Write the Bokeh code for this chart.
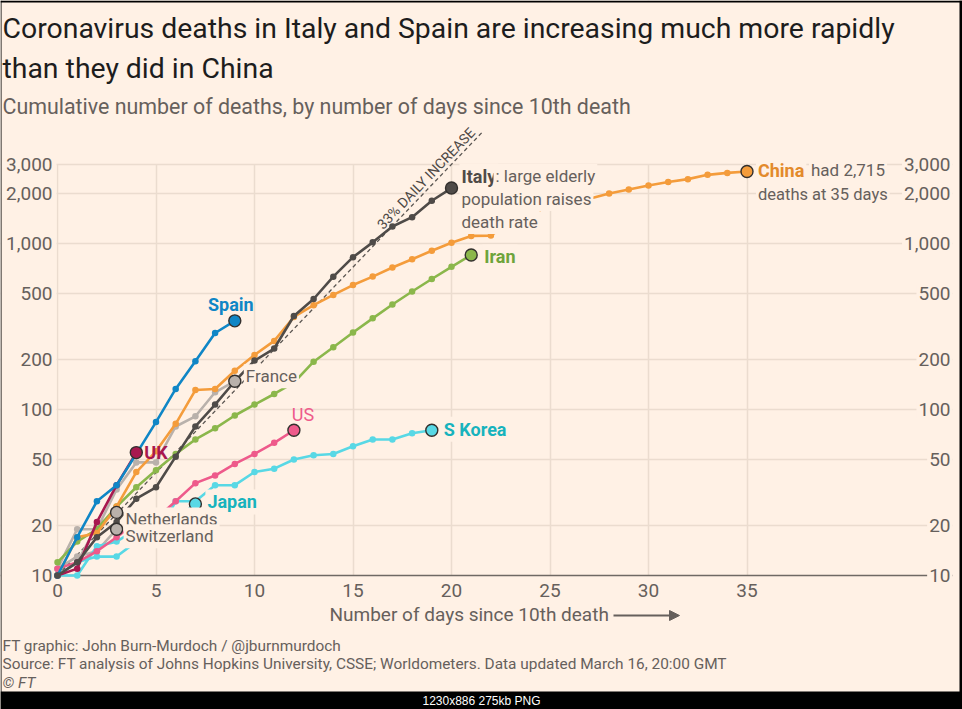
from bokeh.plotting import figure
from bokeh.models import (Range1d, FixedTicker, Grid, BoxAnnotation, Label,
                          Arrow, NormalHead, ColumnDataSource)
from bokeh.embed import file_html
from bokeh.resources import INLINE

# ------------------------------------------------------------------ data
# cumulative deaths by day since 10th death (day 0 = first value)
ITALY = [10, 12, 17, 21, 29, 34, 52, 79, 107, 148, 197, 233, 366, 463, 631,
         827, 1016, 1266, 1441, 1809, 2158]
CHINA = [10, 17, 18, 26, 42, 56, 82, 131, 133, 171, 213, 259, 361, 425, 490,
         562, 632, 717, 804, 904, 1011, 1111, 1116, 1368, 1520, 1662, 1765,
         1863, 2002, 2114, 2236, 2345, 2442, 2592, 2663, 2715]
SPAIN = [10, 17, 28, 35, 54, 84, 133, 195, 289, 342]
IRAN = [12, 16, 19, 26, 34, 43, 54, 66, 77, 92, 107, 124, 145, 194, 237, 291,
        354, 429, 514, 611, 724, 853]
S_KOREA = [10, 12, 13, 13, 16, 17, 28, 28, 35, 35, 42, 44, 50, 53, 54, 60,
           66, 66, 72, 75]
JAPAN = [10, 10, 15, 16, 19, 22, 22, 27]
US = [11, 12, 14, 17, 21, 22, 28, 36, 40, 47, 54, 63, 75]
UK = [10, 11, 21, 35, 55]
FRANCE = [11, 19, 19, 33, 48, 48, 79, 91, 127, 148]
NETHERLANDS = [10, 12, 20, 24]
SWITZERLAND = [11, 13, 14, 19]

REF_GROWTH = 0.33          # 33% daily increase guide
REF_DAYS = [0, 21.6]
REF_START = 10

X_TICKS = [0, 5, 10, 15, 20, 25, 30, 35]
Y_TICKS = [10, 20, 50, 100, 200, 500, 1000, 2000, 3000]

# ------------------------------------------------------------------ style
BG = "#fff1e5"
GRID = "#ebdccf"
AXIS = "#6f6964"
TXT = "#66605c"
TITLE = "#1d1d1d"
DARK = "#33302e"
FONT = "Roboto"

C_ITALY = "#4f4b48"
C_CHINA = "#f49c3b"
C_SPAIN = "#0f86c6"
C_IRAN = "#8bb74b"
C_CYAN = "#58d8e5"
C_US = "#ee5a8b"
C_UK = "#a8184f"
C_GREY = "#b9b1ab"

W, H = 962, 709
X0_PX, PX_DAY = 57, 19.7      # page x of day 0, pixels per day
Y10_PX, PX_DEC = 575, 166     # page y of 10 deaths, pixels per decade
PLOT_L, PLOT_R = 56, 952      # horizontal extent of the plotting area
LEFT_LAB_PX = 52              # right edge of the left tick labels
XLAB_PY = 590                 # centre of the x tick labels


def day_at(px):
    return (px - X0_PX) / PX_DAY


def val_at(py):
    return 10 ** (1 + (Y10_PX - py) / PX_DEC)


p = figure(width=W, height=H, output_backend="svg", toolbar_location=None,
           x_range=Range1d(day_at(0), day_at(W)), y_range=Range1d(val_at(H), val_at(0)),
           y_axis_type="log", x_axis_location=None, y_axis_location=None,
           min_border=0, background_fill_color=BG, border_fill_color=BG,
           outline_line_color=None)


def mask(**kw):
    return BoxAnnotation(fill_color=BG, fill_alpha=1, line_color=None,
                         level="underlay", **kw)


xg = Grid(dimension=0, ticker=FixedTicker(ticks=X_TICKS),
          grid_line_color=GRID, grid_line_width=1.5)
yg = Grid(dimension=1, ticker=FixedTicker(ticks=Y_TICKS[1:]),
          grid_line_color=GRID, grid_line_width=1.5)
base = Grid(dimension=1, ticker=FixedTicker(ticks=Y_TICKS[:1]),
            grid_line_color=AXIS, grid_line_width=1.5)
p.center = [xg, mask(bottom=Y_TICKS[-1]), mask(top=Y_TICKS[0]),
            yg, base, mask(right=day_at(PLOT_L)), mask(left=day_at(PLOT_R))]

# 33% daily increase guide
ref_vals = [REF_START * (1 + REF_GROWTH) ** d for d in REF_DAYS]
p.line(REF_DAYS, ref_vals, line_color="#5a5551", line_width=1.3, line_dash="4 3")

# series
SERIES = [
    (FRANCE, C_GREY), (NETHERLANDS, C_GREY), (SWITZERLAND, C_GREY),
    (JAPAN, C_CYAN), (S_KOREA, C_CYAN), (US, C_US), (IRAN, C_IRAN),
    (CHINA, C_CHINA), (UK, C_UK), (SPAIN, C_SPAIN), (ITALY, C_ITALY),
]
for vals, col in SERIES:
    src = ColumnDataSource(dict(x=list(range(len(vals))), y=vals))
    p.line("x", "y", source=src, line_color=col, line_width=2.6, line_join="round")
    p.scatter("x", "y", source=src, size=6.5, fill_color=col, line_color=None)
for vals, col in SERIES:
    p.scatter([len(vals) - 1], [vals[-1]], size=12, fill_color=col,
              line_color=DARK, line_width=1.4)


def lab(x, y, text, size, color, bold=False, italic=False, align="left",
        baseline="middle", xo=0, yo=0, bg=None, xu="data", yu="data",
        angle=0, font=FONT):
    style = "bold" if bold else ("italic" if italic else "normal")
    kw = dict(x=x, y=y, text=text, text_font=font, text_font_size=f"{size}px",
              text_color=color, text_font_style=style, text_align=align,
              text_baseline=baseline, x_offset=xo, y_offset=yo,
              x_units=xu, y_units=yu, angle=angle, angle_units="deg")
    if bg:
        kw.update(background_fill_color=bg, background_fill_alpha=1.0, padding=2)
    p.add_layout(Label(**kw))


def slab(px, py, text, size, color, **kw):
    """label centred vertically on page pixel row py (top-left origin)"""
    lab(px, H - py, text, size, color, xu="screen", yu="screen", **kw)


def end(vals):
    return len(vals) - 1, vals[-1]


# tick labels (left, right, bottom)
for t in Y_TICKS:
    lab(day_at(LEFT_LAB_PX), t, f"{t:,}", 19, TXT, align="right")
    lab(day_at(PLOT_R), t, f"{t:,}", 19, TXT, align="right", bg=BG)
for t in X_TICKS:
    lab(t, H - XLAB_PY, f"{t}", 19, TXT, align="center", yu="screen")

# series labels
lab(*end(SPAIN), "Spain", 18, C_SPAIN, bold=True, align="center", xo=-4, yo=16)
lab(*end(UK), "UK", 18, C_UK, bold=True, xo=8, yo=0)
lab(*end(FRANCE), "France", 17, TXT, xo=9, yo=5, bg=BG)
lab(*end(US), "US", 18, C_US, align="center", xo=9, yo=16)
lab(*end(NETHERLANDS), "Netherlands", 17, TXT, xo=7, yo=-7, bg=BG)
lab(*end(SWITZERLAND), "Switzerland", 17, TXT, xo=7, yo=-7, bg=BG)
lab(*end(JAPAN), "Japan", 18, "#17b3bd", bold=True, xo=10, yo=2, bg=BG)
lab(*end(S_KOREA), "S Korea", 18, "#17b3bd", bold=True, xo=10, yo=1, bg=BG)
lab(*end(IRAN), "Iran", 18, "#6ea43b", bold=True, xo=11, yo=-2, bg=BG)
lab(*end(ITALY), "Italy", 18, C_ITALY, bold=True, xo=8, yo=12, bg=BG)
lab(*end(ITALY), ": large elderly", 17, TXT, xo=42, yo=12, bg=BG)
lab(*end(ITALY), "population raises", 17, TXT, xo=8, yo=-11, bg=BG)
lab(*end(ITALY), "death rate", 17, TXT, xo=8, yo=-34, bg=BG)
lab(*end(CHINA), "China", 18, "#e38a2b", bold=True, xo=9, yo=1, bg=BG)
lab(*end(CHINA), "had 2,715", 17, TXT, xo=62, yo=1, bg=BG)
lab(*end(CHINA), "deaths at 35 days", 16.5, TXT, xo=9, yo=-23, bg=BG)

ref_lab_day = 19
lab(ref_lab_day, REF_START * (1 + REF_GROWTH) ** ref_lab_day, "33% DAILY INCREASE",
    14, "#4d4845", align="center", baseline="bottom", angle=46.2, yo=1)

# titles, axis title, footer
slab(2, 28, "Coronavirus deaths in Italy and Spain are increasing much more rapidly",
     28.4, TITLE)
slab(2, 68, "than they did in China", 28.4, TITLE)
slab(2, 106, "Cumulative number of deaths, by number of days since 10th death",
     21.4, TXT)
slab(329, 614, "Number of days since 10th death", 19, TXT)
p.add_layout(Arrow(x_start=613, y_start=H - 615, x_end=679, y_end=H - 615,
                   start_units="screen", end_units="screen",
                   line_color=TXT, line_width=1.8,
                   end=NormalHead(size=10, fill_color=TXT, line_color=TXT)))
slab(2, 645, "FT graphic: John Burn-Murdoch / @jburnmurdoch", 15.4, TXT)
slab(2, 663, "Source: FT analysis of Johns Hopkins University, CSSE; Worldometers. "
     "Data updated March 16, 20:00 GMT", 15.4, TXT)
slab(2, 682, "© FT", 15.4, TXT, italic=True)


# screenshot frame: black border and info strip
def black(x0, y0, x1, y1):
    p.add_layout(BoxAnnotation(left=x0, right=x1, top=H - y0, bottom=H - y1,
                               left_units="screen", right_units="screen",
                               top_units="screen", bottom_units="screen",
                               fill_color="black", fill_alpha=1, line_color=None))


black(0, 691, W, H)
black(0, 0, W, 2)
black(0, 0, 1, H)
black(W - 3, 0, W, H)
slab(481, 700, "1230x886 275kb PNG", 12, "white", align="center",
     font="Liberation Sans")

open("out.html", "w").write(file_html(p, INLINE))
